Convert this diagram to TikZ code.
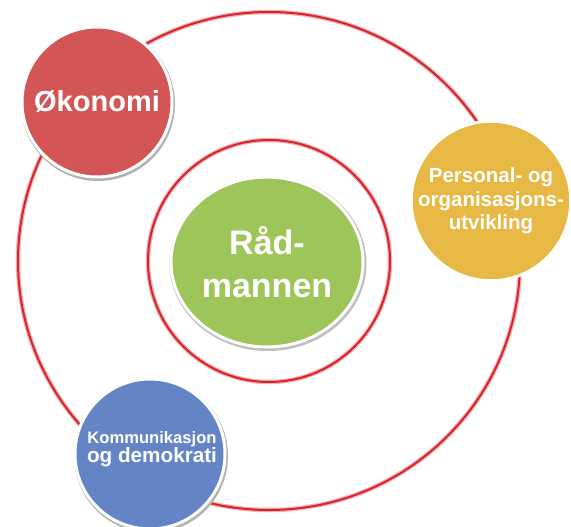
\documentclass[tikz,border=0pt]{standalone}
\usepackage{fontspec}
\setmainfont{Liberation Sans}
\usetikzlibrary{shapes.geometric}
\definecolor{ringred}{HTML}{D8232A}
\definecolor{okored}{HTML}{D35555}
\definecolor{persyellow}{HTML}{E7B843}
\definecolor{komblue}{HTML}{6485C5}
\definecolor{radgreen}{HTML}{9DC55A}
\tikzset{
  ring/.style={draw=ringred, line width=2pt},
  ringglow/.style={draw=ringred!35, line width=4.5pt},
  bubble/.style={circle, minimum size=150pt, inner sep=0pt, draw=white, line width=3pt, text=white, align=center, font=\bfseries},
  bshadow/.style={circle, minimum size=154pt, inner sep=0pt, fill=black!30},
}
\begin{document}
\begin{tikzpicture}[x=1pt,y=-1pt]
\useasboundingbox (0,0) rectangle (571,527);
\fill[white] (0,0) rectangle (571,527);
% rings
\coordinate (c) at (269,261);
\draw[ringglow] (c) ellipse [x radius=251, y radius=249];
\draw[ring] (c) ellipse [x radius=251, y radius=249];
\draw[ringglow] (c) circle [radius=121];
\draw[ring] (c) circle [radius=121];
% centre
\node[ellipse, minimum width=197pt, minimum height=175pt, fill=black!25] (rshadow) at (268,263.5) {};
\node[ellipse, minimum width=192pt, minimum height=170pt, inner sep=0pt, fill=radgreen, draw=white, line width=3pt, text=white, align=center, font=\bfseries\fontsize{34}{43}\selectfont] (rad) at (267,262) {Råd-\\mannen};
% outer bubbles
\node[bshadow] (okoS) at (98,104) {};
\node[bubble, fill=okored, font=\bfseries\fontsize{29}{34}\selectfont] (oko) at (97,102) {Økonomi};
\node[bshadow] (persS) at (492,203) {};
\node[bubble, fill=persyellow, font=\bfseries\fontsize{20.5}{23.5}\selectfont] (pers) at (491,201) {Personal- og\\organisasjons-\\utvikling};
\node[bshadow] (komS) at (151,456) {};
\node[bubble, fill=komblue] (kom) at (150,454) {};
\node[text=white, align=center, font=\bfseries] (komT) at (152,449) {\fontsize{16.6}{20}\selectfont Kommunikasjon\\[-0.5pt]\fontsize{20.7}{23}\selectfont og demokrati};
\end{tikzpicture}
\end{document}
